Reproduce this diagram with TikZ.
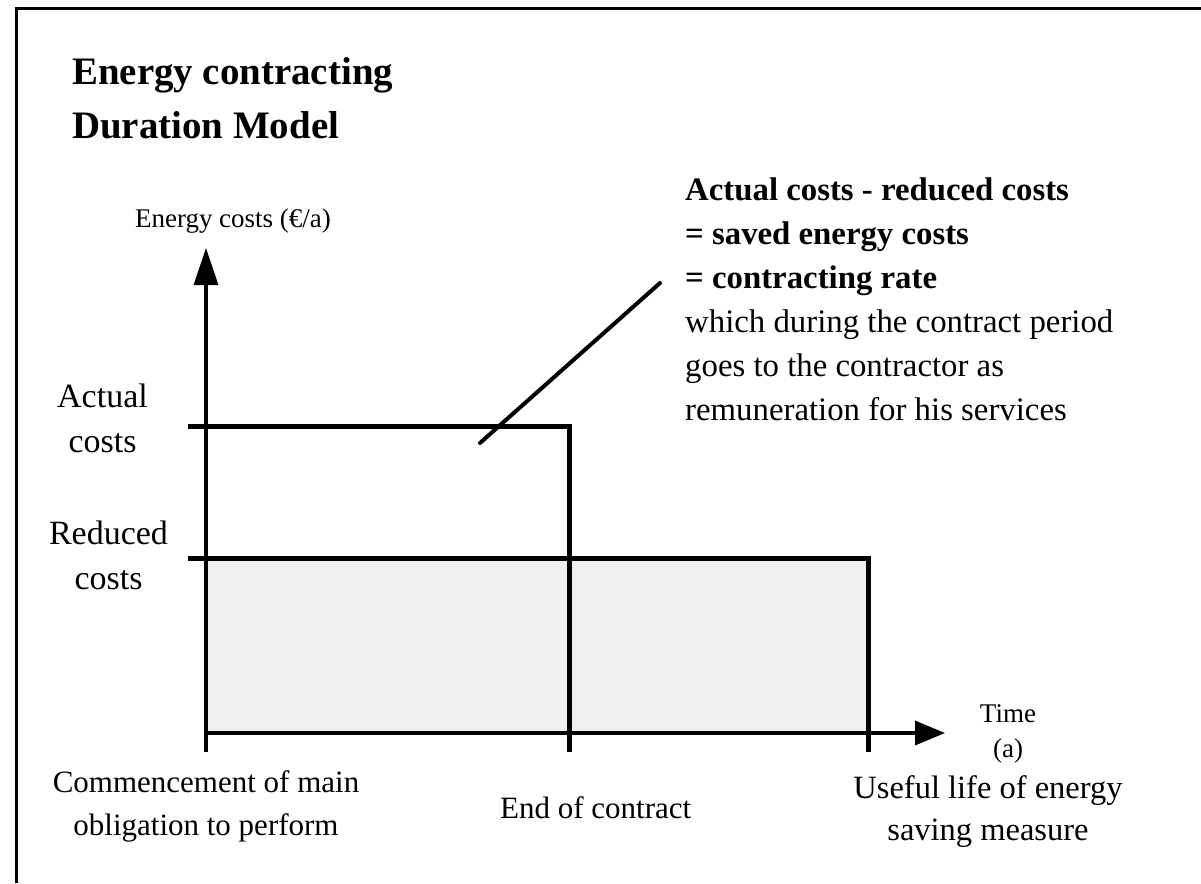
\documentclass[tikz,border=0pt]{standalone}
\usepackage{fontspec}
\setmainfont{Liberation Serif}
\usetikzlibrary{arrows.meta}
\definecolor{fillgray}{RGB}{239,239,239}
\begin{document}
\begin{tikzpicture}[x=1pt,y=-1pt,
  frameline/.style={line width=3pt},
  axisline/.style={line width=3.5pt},
  levelline/.style={line width=5pt},
  leader/.style={line width=4pt, line cap=round},
  txt/.style={inner sep=0pt, align=center, font=\fontsize{31}{43}\selectfont},
  sidetxt/.style={inner sep=0pt, align=center, font=\fontsize{34}{45}\selectfont},
  usefultxt/.style={inner sep=0pt, align=center, font=\fontsize{32.5}{42}\selectfont},
  smalltxt/.style={inner sep=0pt, align=center, font=\fontsize{27}{35}\selectfont},
  titletxt/.style={inner sep=0pt, align=left, font=\bfseries\fontsize{38.9}{54}\selectfont},
  notetxt/.style={inner sep=0pt, align=left, font=\fontsize{32.8}{44}\selectfont}]
\useasboundingbox (0,0) rectangle (1201,883);
\fill[white] (0,0) rectangle (1201,883);
% frame (only top and left visible)
\draw[frameline] (16.5,883) -- (16.5,8.5) -- (1201,8.5);
% coordinates
\coordinate (origin) at (206,733);
\coordinate (ybot) at (206,752);
\coordinate (ytop) at (206,248);
\coordinate (xend) at (945,733);
\coordinate (actL) at (188,426);
\coordinate (actR) at (569,426);
\coordinate (endB) at (569,752);
\coordinate (redL) at (188,558);
\coordinate (redR) at (868,558);
\coordinate (useB) at (868,752);
\coordinate (leadA) at (480,443);
\coordinate (leadB) at (660,283);
% shaded area
\fill[fillgray] (206,558) rectangle (868,733);
% axes
\draw[axisline,-{Triangle[length=37pt,width=24pt]}] (ybot) -- (ytop);
\draw[axisline,-{Triangle[length=30pt,width=24pt]}] (origin) -- (xend);
% levels
\draw[levelline] (actL) -- (actR) -- (endB);
\draw[levelline] (redL) -- (redR) -- (useB);
% leader
\draw[leader] (leadA) -- (leadB);
% texts (base anchor = baseline of the last line)
\node[titletxt, anchor=base west] (title) at (72,138) {Energy contracting\\Duration Model};
\node[smalltxt, anchor=base] (ylabel) at (233,227) {Energy costs (€/a)};
\node[sidetxt, anchor=base] (actual) at (102.5,452) {Actual\\costs};
\node[sidetxt, anchor=base] (reduced) at (108.5,589) {Reduced\\costs};
\node[smalltxt, anchor=base] (time) at (1008,757) {Time\\(a)};
\node[usefultxt, anchor=base] (useful) at (988,840) {Useful life of energy\\saving measure};
\node[txt, anchor=base] (commence) at (206,835) {Commencement of main\\obligation to perform};
\node[txt, anchor=base west] (endc) at (500,818) {End of contract};
\node[notetxt, anchor=base west] (note) at (685,420) {\textbf{Actual costs - reduced costs}\\\textbf{= saved energy costs}\\\textbf{= contracting rate}\\which during the contract period\\goes to the contractor as\\remuneration for his services};
\end{tikzpicture}
\end{document}
